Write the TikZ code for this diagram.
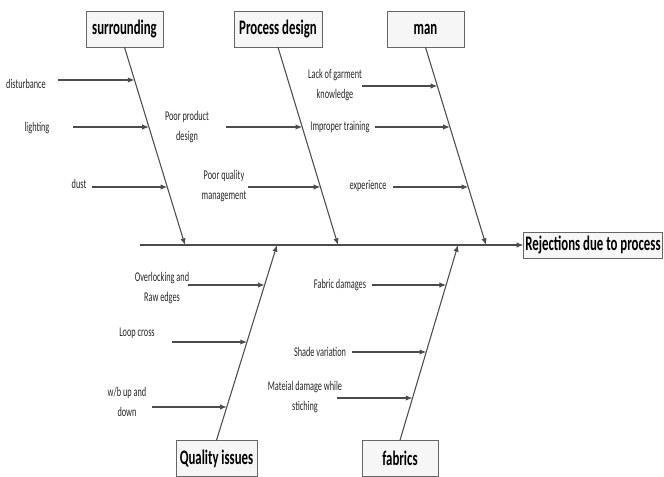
\documentclass[tikz,border=0pt]{standalone}
\usepackage{fontspec}
\setmainfont{Carlito}[FakeStretch=0.62]
\usetikzlibrary{intersections,arrows.meta}
\newcommand\fbarrow[2]{\path[name path=tmp#1] (#1) -- ++(300,0); \draw[arr, name intersections={of=tmp#1 and #2}] (#1) -- (intersection-1);}
\begin{document}
\begin{tikzpicture}[x=0.75pt,y=-0.75pt,
  ln/.style={draw=black!70, line width=0.8pt},
  arr/.style={ln, -{Latex[length=5pt,width=4pt]}},
  head/.style={draw=black!60, fill=gray!7, inner sep=0pt, font=\fontsize{15.5}{18}\selectfont\bfseries, minimum height=27pt},
  lbl/.style={inner sep=0pt, align=center, font=\fontsize{10}{14.5}\selectfont, text=black!85}]
\useasboundingbox (0,0) rectangle (664,477);
% heads
\node[head, minimum width=57.75pt] (surr) at (124.5,29) {surrounding};
\node[head, minimum width=66pt] (pd) at (278,29) {Process design};
\node[head, minimum width=57.75pt] (man) at (425.5,29) {man};
\node[head, minimum width=104pt, minimum height=19.5pt] (rej) at (593,245) {Rejections due to process};
\node[head, minimum width=60.75pt] (qi) at (216.5,458.5) {Quality issues};
\node[head, minimum width=57pt] (fab) at (400,458.5) {fabrics};
% spine
\coordinate (sp) at (140,245);
\draw[arr] (sp) -- (rej.west);
\coordinate (b1) at (185,245);
\coordinate (b2) at (338,245);
\coordinate (b3) at (486,245);
\coordinate (b4) at (277,245);
\coordinate (b5) at (458,245);
\draw[arr, name path=bs] (surr.south) -- (b1);
\draw[arr, name path=bp] (pd.south) -- (b2);
\draw[arr, name path=bm] (man.south) -- (b3);
\draw[arr, name path=bq] (qi.north) -- (b4);
\draw[arr, name path=bf] (fab.north) -- (b5);
% labels
\node[lbl] (t1) at (26,84) {disturbance};
\node[lbl] (t2) at (37,128) {lighting};
\node[lbl] (t3) at (79,184) {dust};
\node[lbl] (t4) at (187,127) {Poor product\\design};
\node[lbl] (t5) at (224,186) {Poor quality\\management};
\node[lbl] (t6) at (335,85) {Lack of garment\\knowledge};
\node[lbl] (t7) at (340,127) {Improper training};
\node[lbl] (t8) at (368,186) {experience};
\node[lbl] (t9) at (162,288) {Overlocking and\\Raw edges};
\node[lbl] (t10) at (137,333) {Loop cross};
\node[lbl] (t11) at (127,402) {w/b up and\\down};
\node[lbl] (t12) at (340,285) {Fabric damages};
\node[lbl] (t13) at (320,352) {Shade variation};
\node[lbl] (t14) at (305,397) {Mateial damage while\\stiching};
% arrow starts
\coordinate (a1) at (58,80);
\coordinate (a2) at (73,127);
\coordinate (a3) at (92,187);
\coordinate (a4) at (226,127);
\coordinate (a5) at (248,187);
\coordinate (a6) at (362,86);
\coordinate (a7) at (375,127);
\coordinate (a8) at (393,187);
\coordinate (a9) at (188,285);
\coordinate (a10) at (172,342);
\coordinate (a11) at (152,407);
\coordinate (a12) at (372,285);
\coordinate (a13) at (352,352);
\coordinate (a14) at (337,398);
\fbarrow{a1}{bs}
\fbarrow{a2}{bs}
\fbarrow{a3}{bs}
\fbarrow{a4}{bp}
\fbarrow{a5}{bp}
\fbarrow{a6}{bm}
\fbarrow{a7}{bm}
\fbarrow{a8}{bm}
\fbarrow{a9}{bq}
\fbarrow{a10}{bq}
\fbarrow{a11}{bq}
\fbarrow{a12}{bf}
\fbarrow{a13}{bf}
\fbarrow{a14}{bf}
\end{tikzpicture}
\end{document}
